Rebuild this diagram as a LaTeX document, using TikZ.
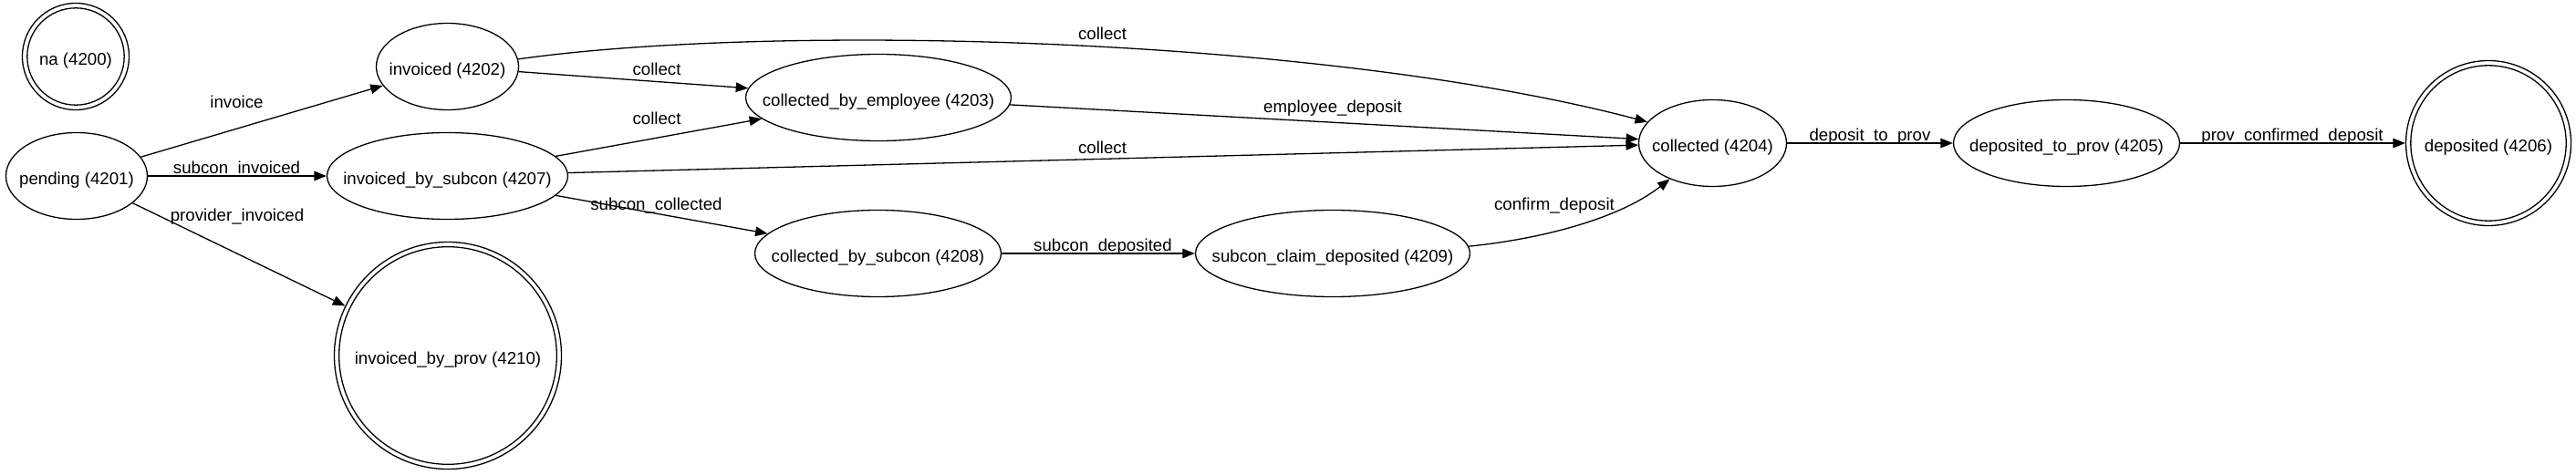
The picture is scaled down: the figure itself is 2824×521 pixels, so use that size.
\documentclass[tikz,border=0pt]{standalone}
\usepackage{fontspec}
\setmainfont{Liberation Sans}
\usetikzlibrary{arrows.meta,shapes.geometric}
\newcommand\nt[1]{\makebox[0pt]{\raisebox{-9.3pt}[0pt][0pt]{#1}}}
\begin{document}
\begin{tikzpicture}[x=1pt,y=-1pt,
  every node/.style={font=\fontsize{18.67}{22}\selectfont},
  st/.style={draw, ellipse, line width=1.3pt, inner sep=0pt, minimum height=95pt},
  fin/.style={draw, circle, line width=1.3pt, inner sep=0pt},
  edge/.style={line width=1.3pt, -{Triangle[length=13.5pt,width=10.5pt]}},
  lab/.style={anchor=base, inner sep=0pt},
  inner ring/.style={line width=1.3pt}]
\useasboundingbox (0,0) rectangle (2824,521);

% states
\node[fin, minimum size=117pt] (na) at (83,62) {\nt{na (4200)}};
\draw[inner ring] (na.center) circle[radius=53.2];
\node[st, minimum width=155pt] (pending) at (84,193) {\nt{pending (4201)}};
\node[st, minimum width=156pt] (invoiced) at (490.5,73) {\nt{invoiced (4202)}};
\node[st, minimum width=264pt] (bysub) at (490.5,193) {\nt{invoiced\_by\_subcon (4207)}};
\node[fin, minimum size=249pt] (byprov) at (491,390) {\nt{invoiced\_by\_prov (4210)}};
\draw[inner ring] (byprov.center) circle[radius=119.3];
\node[st, minimum width=291pt] (emp) at (963,107) {\nt{collected\_by\_employee (4203)}};
\node[st, minimum width=270pt] (csub) at (962.5,278) {\nt{collected\_by\_subcon (4208)}};
\node[st, minimum width=301pt] (claim) at (1461,278) {\nt{subcon\_claim\_deposited (4209)}};
\node[st, minimum width=162pt] (coll) at (1877.5,157) {\nt{collected (4204)}};
\node[st, minimum width=248pt] (dtp) at (2265.5,157) {\nt{deposited\_to\_prov (4205)}};
\node[fin, minimum size=181pt] (dep) at (2728,157) {\nt{deposited (4206)}};
\draw[inner ring] (dep.center) circle[radius=85.2];

% transitions
\draw[edge] (pending) -- (invoiced);
\draw[edge] (pending) -- (bysub);
\draw[edge] (pending) -- (byprov);
\draw[edge] (invoiced) -- (emp);
\draw[edge] (invoiced.6.5) .. controls (850,25) and (1450,40) .. (coll.162);
\draw[edge] (bysub) -- (emp);
\draw[edge] (bysub) -- (coll);
\draw[edge] (bysub) -- (csub);
\draw[edge] (emp) -- (coll);
\draw[edge] (csub) -- (claim);
\draw[edge] (claim.3) .. controls (1690,262) and (1775,240) .. (coll.220);
\draw[edge] (coll) -- (dtp);
\draw[edge] (dtp) -- (dep);

% labels
\node[lab] (l1) at (259.5,119) {invoice};
\node[lab] (l2) at (259.5,191) {subcon\_invoiced};
\node[lab] (l3) at (260,243) {provider\_invoiced};
\node[lab] (l4) at (720,83) {collect};
\node[lab] (l5) at (720,137) {collect};
\node[lab] (l6) at (719.5,231) {subcon\_collected};
\node[lab] (l7) at (1208.5,44) {collect};
\node[lab] (l8) at (1208.5,169) {collect};
\node[lab] (l9) at (1461,124) {employee\_deposit};
\node[lab] (l10) at (1209,276) {subcon\_deposited};
\node[lab] (l11) at (1704,231) {confirm\_deposit};
\node[lab] (l12) at (2050,155) {deposit\_to\_prov};
\node[lab] (l13) at (2513,155) {prov\_confirmed\_deposit};
\end{tikzpicture}
\end{document}
